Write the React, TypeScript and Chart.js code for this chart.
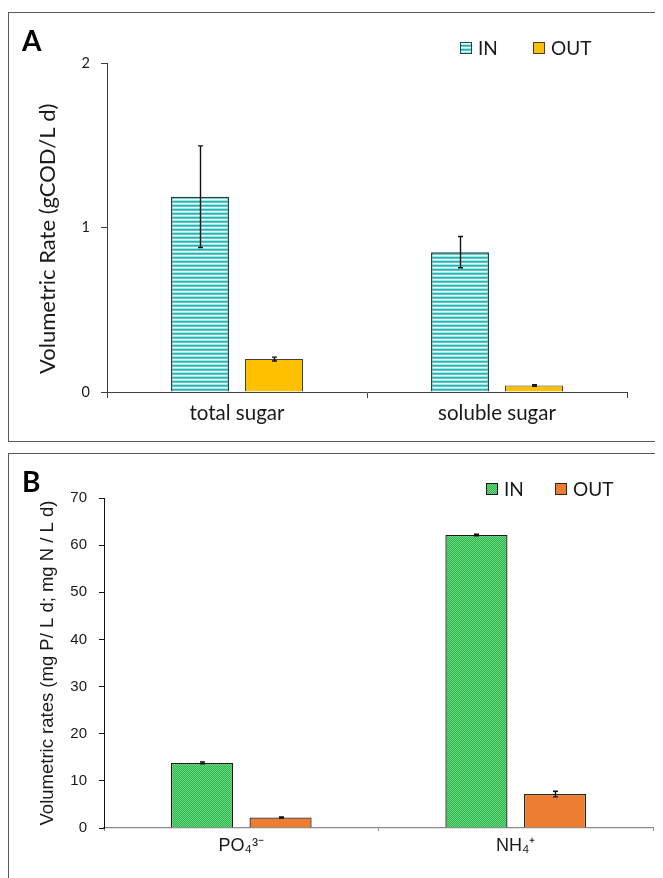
import React, { useEffect, useRef } from "react";
import { Chart, registerables } from "chart.js";

Chart.register(...registerables);

// ---------- Panel A data ----------
const categoriesA = ["total sugar", "soluble sugar"];
const seriesNames = ["IN", "OUT"];
const inA = [1.187, 0.85];
const outA = [0.2, 0.04];
const inErrA = [0.309, 0.095];
const outErrA = [0.012, 0.005];
const ticksA = [0, 1, 2];
const titleA = "Volumetric Rate (gCOD/L d)";

// ---------- Panel B data ----------
const categoriesB = ["PO₄³⁻", "NH₄⁺"];
const inB = [13.8, 62.15];
const outB = [2.25, 7.2];
const inErrB = [0.2, 0.15];
const outErrB = [0.12, 0.6];
const ticksB = [0, 10, 20, 30, 40, 50, 60, 70];
const titleB = "Volumetric rates (mg P/ L d; mg N / L d)";

function makePattern(rows: string[][]) {
  const c = document.createElement("canvas");
  c.width = rows[0].length;
  c.height = rows.length;
  const g = c.getContext("2d")!;
  rows.forEach((r, y) =>
    r.forEach((col, x) => {
      g.fillStyle = col;
      g.fillRect(x, y, 1, 1);
    })
  );
  return g.createPattern(c, "repeat")!;
}

type Decor = {
  errors: number[][];
  letter: string;
  letterX: number;
  letterY: number;
  legendX: number[];
  legendY: number;
  legendFont: string;
  textGap: number;
};

function decorPlugin(d: Decor) {
  return {
    id: "decor",
    afterDatasetsDraw(chart: any) {
      const ctx = chart.ctx;
      const y = chart.scales.y;
      ctx.save();
      ctx.strokeStyle = "#111";
      ctx.lineWidth = 1.4;
      chart.data.datasets.forEach((ds: any, i: number) => {
        const meta = chart.getDatasetMeta(i);
        meta.data.forEach((bar: any, j: number) => {
          const v = ds.data[j];
          const e = d.errors[i][j];
          const x = Math.round(bar.x) + 0.5;
          const y1 = y.getPixelForValue(v + e);
          const y2 = y.getPixelForValue(v - e);
          const cap = 2.5;
          ctx.beginPath();
          ctx.moveTo(x, y1);
          ctx.lineTo(x, y2);
          ctx.moveTo(x - cap, y1);
          ctx.lineTo(x + cap, y1);
          ctx.moveTo(x - cap, y2);
          ctx.lineTo(x + cap, y2);
          ctx.stroke();
        });
      });
      ctx.restore();
    },
    afterDraw(chart: any) {
      const ctx = chart.ctx;
      ctx.save();
      // panel letter
      ctx.fillStyle = "#000";
      ctx.font = "bold 28px Lato";
      ctx.textBaseline = "alphabetic";
      ctx.textAlign = "left";
      ctx.fillText(d.letter, d.letterX, d.letterY);
      // legend
      chart.data.datasets.forEach((ds: any, i: number) => {
        const bx = d.legendX[i];
        const by = d.legendY;
        ctx.fillStyle = ds.backgroundColor;
        ctx.fillRect(bx, by, 12, 12);
        ctx.strokeStyle = ds.borderColor;
        ctx.lineWidth = 1;
        ctx.strokeRect(bx + 0.5, by + 0.5, 11, 11);
        ctx.fillStyle = "#1a1a1a";
        ctx.font = d.legendFont;
        ctx.textBaseline = "middle";
        ctx.fillText(ds.label, bx + 12 + d.textGap, by + 7);
      });
      ctx.restore();
    },
  };
}

function PanelA() {
  const ref = useRef<HTMLCanvasElement>(null);
  useEffect(() => {
    const stripes = makePattern([
      ["#1fb3b3"],
      ["#56cccc"],
      ["#f2fbfb"],
      ["#a8e6e6"],
    ]);
    const chart = new Chart(ref.current!, {
      type: "bar",
      data: {
        labels: categoriesA,
        datasets: [
          {
            label: seriesNames[0],
            data: inA,
            backgroundColor: stripes,
            borderColor: "#1f4646",
            borderWidth: 1.5,
            categoryPercentage: 0.569,
            barPercentage: 0.784,
          },
          {
            label: seriesNames[1],
            data: outA,
            backgroundColor: "#FFC000",
            borderColor: "#404040",
            borderWidth: 1,
            categoryPercentage: 0.569,
            barPercentage: 0.784,
          },
        ],
      },
      options: {
        responsive: false,
        animation: false,
        layout: { padding: { left: 0, top: 50, right: 36, bottom: 9 } },
        plugins: { legend: { display: false }, title: { display: false }, tooltip: { enabled: false } },
        scales: {
          x: {
            afterFit: (s: any) => {
              s.height = 40;
            },
            border: { display: true, color: "#404040", width: 1 },
            grid: { drawOnChartArea: false, drawTicks: true, tickLength: 6, color: "#404040", offset: true },
            ticks: { font: { family: "Lato", size: 20.5 }, color: "#1a1a1a", padding: 3 },
          },
          y: {
            min: 0,
            max: 2,
            afterBuildTicks: (s: any) => {
              s.ticks = ticksA.map((v) => ({ value: v }));
            },
            afterFit: (s: any) => {
              s.width = 98;
            },
            border: { display: true, color: "#404040", width: 1 },
            grid: { drawOnChartArea: false, drawTicks: true, tickLength: 6, color: "#404040" },
            ticks: { font: { family: "Lato", size: 14.5 }, color: "#1a1a1a", padding: 11 },
            title: {
              display: true,
              text: titleA + "    ",
              font: { family: "Lato", size: 22 },
              color: "#1a1a1a",
              padding: { top: 26, bottom: 0 },
            },
          },
        },
      } as any,
      plugins: [
        decorPlugin({
          errors: [inErrA, outErrA],
          letter: "A",
          letterX: 13,
          letterY: 38,
          legendX: [451, 524],
          legendY: 29,
          legendFont: "19px Lato",
          textGap: 6,
        }),
      ],
    });
    return () => chart.destroy();
  }, []);
  return <canvas ref={ref} width={654} height={428} style={{ display: "block" }} />;
}

function PanelB() {
  const ref = useRef<HTMLCanvasElement>(null);
  useEffect(() => {
    const checker = makePattern([
      ["#2bb648", "#6fd886"],
      ["#6fd886", "#2bb648"],
    ]);
    const chart = new Chart(ref.current!, {
      type: "bar",
      data: {
        labels: categoriesB,
        datasets: [
          {
            label: seriesNames[0],
            data: inB,
            backgroundColor: checker,
            borderColor: "#1a1a1a",
            borderWidth: 1.3,
            categoryPercentage: 0.573,
            barPercentage: 0.79,
          },
          {
            label: seriesNames[1],
            data: outB,
            backgroundColor: "#ED7D31",
            borderColor: "#262626",
            borderWidth: 1.3,
            categoryPercentage: 0.573,
            barPercentage: 0.79,
          },
        ],
      },
      options: {
        responsive: false,
        animation: false,
        layout: { padding: { left: 0, top: 44, right: 10, bottom: 10 } },
        plugins: { legend: { display: false }, title: { display: false }, tooltip: { enabled: false } },
        scales: {
          x: {
            afterFit: (s: any) => {
              s.height = 40;
            },
            border: { display: true, color: "#8c8c8c", width: 1.3 },
            grid: { drawOnChartArea: false, drawTicks: true, tickLength: 3, color: "#8c8c8c", offset: true },
            ticks: { font: { family: "Liberation Sans", size: 18 }, color: "#1a1a1a", padding: 4 },
          },
          y: {
            min: 0,
            max: 70,
            afterBuildTicks: (s: any) => {
              s.ticks = ticksB.map((v) => ({ value: v }));
            },
            afterFit: (s: any) => {
              s.width = 95;
            },
            border: { display: true, color: "#111", width: 1 },
            grid: { drawOnChartArea: false, drawTicks: true, tickLength: 5, color: "#111" },
            ticks: { font: { family: "Liberation Sans", size: 15 }, color: "#1a1a1a", padding: 12 },
            title: {
              display: true,
              text: titleB,
              font: { family: "Liberation Sans", size: 18.5 },
              color: "#1a1a1a",
              padding: { top: 28, bottom: 0 },
            },
          },
        },
      } as any,
      plugins: [
        decorPlugin({
          errors: [inErrB, outErrB],
          letter: "B",
          letterX: 13,
          letterY: 38,
          legendX: [477, 546],
          legendY: 29,
          legendFont: "19px Lato",
          textGap: 6,
        }),
      ],
    });
    return () => chart.destroy();
  }, []);
  return <canvas ref={ref} width={654} height={424} style={{ display: "block" }} />;
}

export default function App() {
  const panel: React.CSSProperties = {
    position: "absolute",
    left: 0,
    width: 700,
    border: "1px solid #595959",
    background: "#fff",
  };
  return (
    <div style={{ position: "relative", width: 655, height: 870, overflow: "hidden", background: "#fff" }}>
      <div style={{ ...panel, top: 4, height: 428 }}>
        <PanelA />
      </div>
      <div style={{ ...panel, top: 445, height: 440 }}>
        <PanelB />
      </div>
    </div>
  );
}
